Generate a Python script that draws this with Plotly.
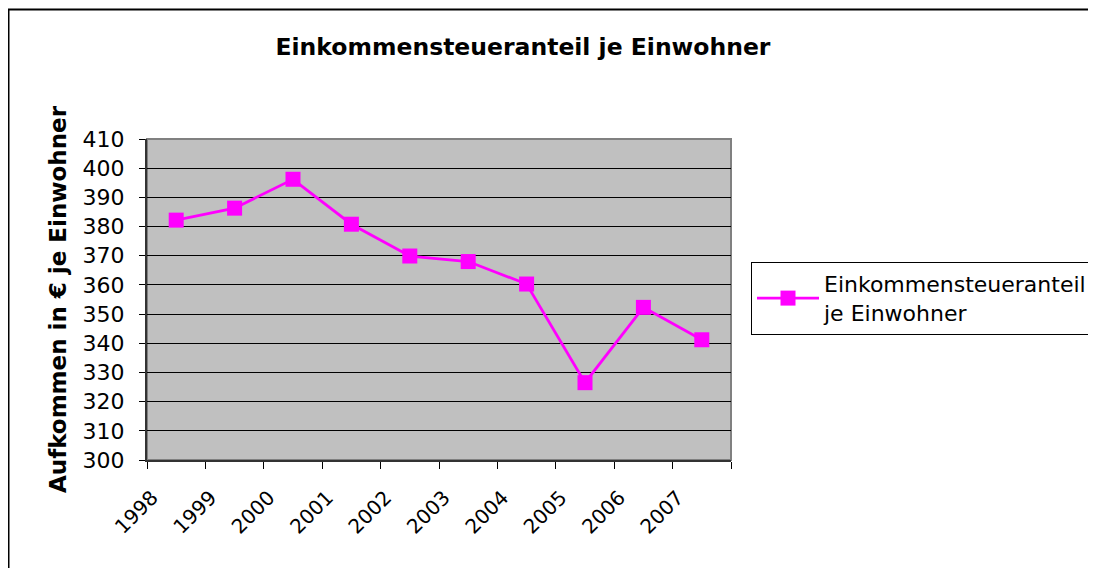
import plotly.graph_objects as go

years = ["1998", "1999", "2000", "2001", "2002", "2003", "2004", "2005", "2006", "2007"]
values = [382.2, 386.3, 396.2, 380.8, 369.9, 368.0, 360.3, 326.5, 352.3, 341.2]
series_name = "Einkommensteueranteil<br>je Einwohner"
title_text = "Einkommensteueranteil je Einwohner"
y_title = "Aufkommen in € je Einwohner"
y_ticks = list(range(300, 411, 10))

FONT = "DejaVu Sans, Arial, sans-serif"
MAG = "#FF00FF"

fig = go.Figure()
fig.add_trace(go.Scatter(
    x=years, y=values, mode="lines+markers", name=series_name,
    line=dict(color=MAG, width=2.8),
    marker=dict(symbol="square", size=15, color=MAG),
))

# page has an 8px body margin; coordinates below are in figure space
L, R, T, B = 139, 365, 131, 108
W, H = 1088, 560
pw, ph = W - L - R, H - T - B

fig.update_layout(
    width=W, height=H,
    margin=dict(l=L, r=R, t=T, b=B, pad=0, autoexpand=False),
    paper_bgcolor="white", plot_bgcolor="#C0C0C0",
    font=dict(family=FONT, size=21, color="black"),
    title=dict(text="<b>" + title_text + "</b>", x=515 / W, xref="container", xanchor="center",
               y=1 - 39 / H, yanchor="middle", font=dict(size=23.5, family=FONT)),
    showlegend=True,
    legend=dict(x=(743 - L) / pw, xanchor="left", y=(H - B - 254) / ph, yanchor="top",
                bordercolor="black", borderwidth=1, bgcolor="white",
                font=dict(size=22, family=FONT), itemwidth=62, tracegroupgap=0),
    xaxis=dict(type="category", range=[-0.5, 9.5], tickson="boundaries",
               ticks="outside", ticklen=7, tickcolor="black", tickwidth=1,
               tickangle=-45, showgrid=False, showline=True, linecolor="#333333", linewidth=2,
               tickfont=dict(size=20, family=FONT), ticklabelshift=-24, ticklabelstandoff=16),
    yaxis=dict(range=[300, 410], tickvals=y_ticks, ticks="outside", ticklen=6, tickcolor="black",
               showgrid=True, gridcolor="black", gridwidth=1, zeroline=False,
               showline=True, linecolor="#333333", linewidth=2,
               tickfont=dict(size=22, family=FONT), ticklabelstandoff=10,
               title=dict(text="<b>" + y_title + "</b>", font=dict(size=23, family=FONT), standoff=10)),
)

# plot area border (gray)
fig.add_shape(type="rect", xref="paper", yref="paper", x0=0, x1=1, y0=0, y1=1,
              line=dict(color="#808080", width=2), layer="below")
# chart outer border
fig.add_shape(type="rect", xref="paper", yref="paper",
              x0=(0.5 - L) / pw, x1=(1100 - L) / pw,
              y0=(H - B - 575) / ph, y1=(H - B - 1.5) / ph,
              line=dict(color="black", width=2))

fig.write_html("out.html")
